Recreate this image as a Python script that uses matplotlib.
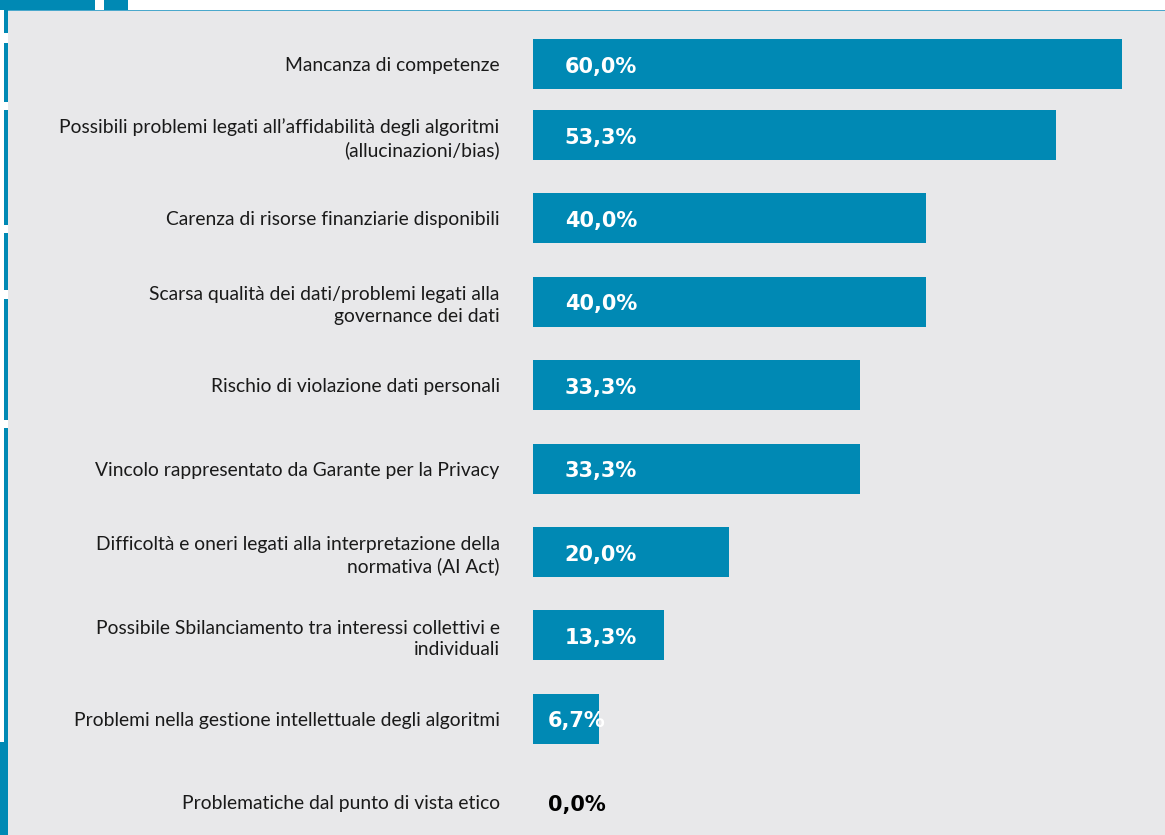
import numpy as np
import matplotlib
matplotlib.use("Agg")
import matplotlib.pyplot as plt
from matplotlib.patches import Rectangle

# Dati
categorie = [
    "Mancanza di competenze",
    "Possibili problemi legati all\u2019affidabilità degli algoritmi\n(allucinazioni/bias)",
    "Carenza di risorse finanziarie disponibili",
    "Scarsa qualità dei dati/problemi legati alla\ngovernance dei dati",
    "Rischio di violazione dati personali",
    "Vincolo rappresentato da Garante per la Privacy",
    "Difficoltà e oneri legati alla interpretazione della\nnormativa (AI Act)",
    "Possibile Sbilanciamento tra interessi collettivi e\nindividuali",
    "Problemi nella gestione intellettuale degli algoritmi",
    "Problematiche dal punto di vista etico",
]
percentuali = [60.0, 53.3, 40.0, 40.0, 33.3, 33.3, 20.0, 13.3, 6.7, 0.0]

BLU = "#0089b4"
GRIGIO = "#e8e8ea"
W, H = 1165, 835

fig = plt.figure(figsize=(W / 100, H / 100), dpi=100)
fig.patch.set_facecolor("white")


def rett(x, y, w, h, colore):
    # rettangolo in pixel, origine in alto a sinistra
    fig.add_artist(Rectangle((x / W, 1 - (y + h) / H), w / W, h / H,
                             transform=fig.transFigure, facecolor=colore,
                             edgecolor="none", zorder=0))


# sfondo e decorazioni
rett(8, 11, W - 8, H - 11, GRIGIO)
rett(8, 9.5, W - 8, 1.6, "#4aa8cc")
rett(0, 0, 95, 10, BLU)
rett(104, 0, 24, 10, BLU)
rett(4, 0, 4, H, BLU)
for y0, y1 in [(33, 43), (102, 110), (225, 233), (290, 299), (420, 428)]:
    rett(4, y0, 4, y1 - y0, "white")
rett(0, 742, 8, H - 742, BLU)

# assi
ax = fig.add_axes([533 / W, 0, 618.5 / W, (H - 11) / H])
ax.set_facecolor("none")

pos = np.arange(len(categorie), dtype=float)
pos[0] += 0.15
ax.barh(pos, percentuali, height=0.6, color=BLU)
ax.set_xlim(0, 63)
ax.set_ylim(9.393, -0.487)

for p, v in zip(pos, percentuali):
    xt = 10.6 if v >= 10 else 7.4
    colore = "white" if v > 0 else "black"
    ax.text(xt, p + 0.03, f"{v:.1f}%".replace(".", ","), ha="right", va="center",
            color=colore, fontsize=15, fontweight="bold", family="DejaVu Sans")

ax.set_yticks(pos)
ax.set_yticklabels(categorie, fontsize=13.9, family="Lato", color="#1a1a1a")
for lab in ax.get_yticklabels():
    lab.set_linespacing(1.3)
ax.tick_params(axis="y", length=0, pad=24)
ax.set_xticks([])
for s in ax.spines.values():
    s.set_visible(False)

fig.savefig("out.png", dpi=100)
